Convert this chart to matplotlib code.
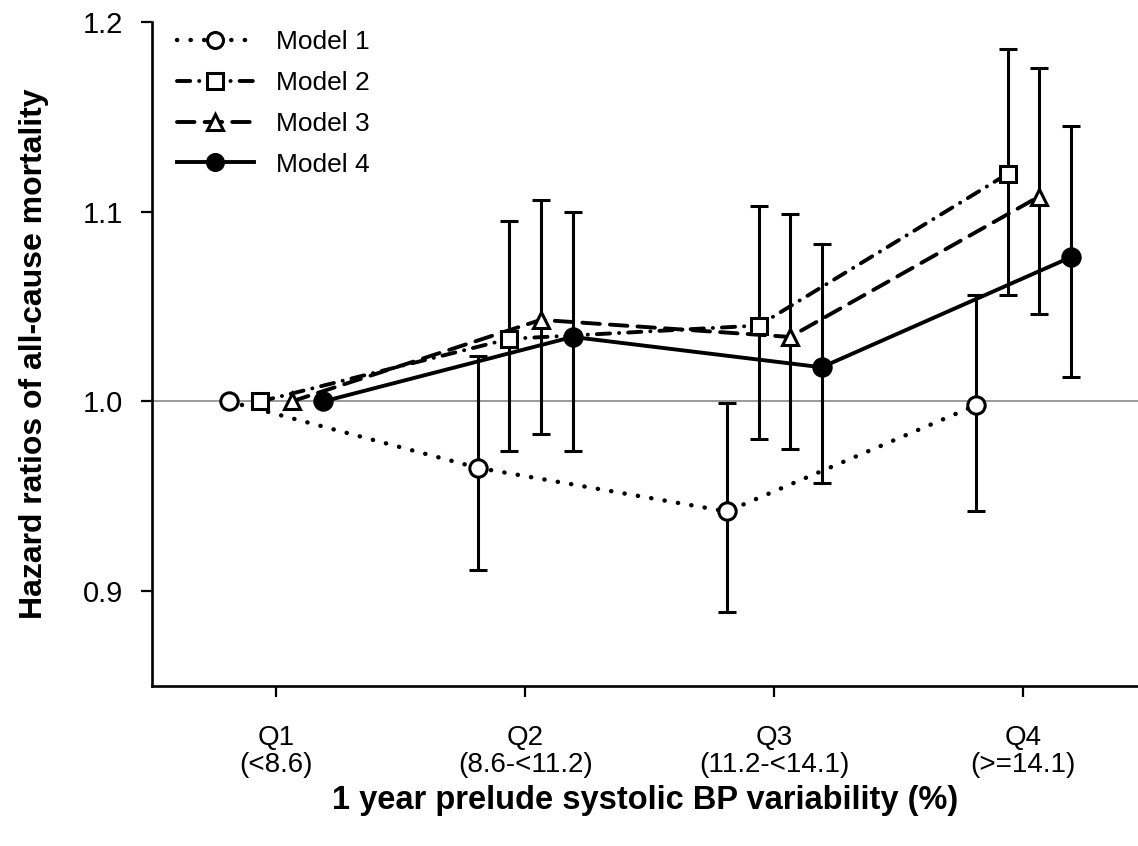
import matplotlib
matplotlib.use('Agg')
import numpy as np
import matplotlib.pyplot as plt

# -------------------------------------------------------
# DATA
# -------------------------------------------------------
quartiles = ['Q1\n(<8.6)', 'Q2\n(8.6-<11.2)', 'Q3\n(11.2-<14.1)', 'Q4\n(>=14.1)']
model_names = ['Model 1', 'Model 2', 'Model 3', 'Model 4']

hr_m1 = [1.000, 0.965, 0.942, 0.998]
lo_m1 = [1.000, 0.911, 0.889, 0.942]
hi_m1 = [1.000, 1.024, 0.999, 1.056]

hr_m2 = [1.000, 1.033, 1.040, 1.120]
lo_m2 = [1.000, 0.974, 0.980, 1.056]
hi_m2 = [1.000, 1.095, 1.103, 1.186]

hr_m3 = [1.000, 1.043, 1.034, 1.108]
lo_m3 = [1.000, 0.983, 0.975, 1.046]
hi_m3 = [1.000, 1.106, 1.099, 1.176]

hr_m4 = [1.000, 1.034, 1.018, 1.076]
lo_m4 = [1.000, 0.974, 0.957, 1.013]
hi_m4 = [1.000, 1.100, 1.083, 1.145]

# -------------------------------------------------------
# STYLE
# -------------------------------------------------------
plt.rcParams['font.family'] = ['Liberation Sans', 'DejaVu Sans']

offsets = [-0.19, -0.063, 0.063, 0.19]
line_styles = [(0, (0.05, 3.0)), (0, (3.4, 2.3, 0.05, 2.3)), (0, (4.5, 2.6)), '-']
line_widths = [3.2, 2.8, 2.8, 2.8]
markers = ['o', 's', '^', 'o']
faces = ['white', 'white', 'white', 'black']
msizes = [12.5, 12, 12, 12.5]

series = [(hr_m1, lo_m1, hi_m1), (hr_m2, lo_m2, hi_m2),
          (hr_m3, lo_m3, hi_m3), (hr_m4, lo_m4, hi_m4)]

fig = plt.figure(figsize=(11.38, 8.46), dpi=100)
ax = fig.add_axes([152 / 1138, 160 / 846, 986 / 1138, 664 / 846])

x = np.arange(1, len(quartiles) + 1)

ax.axhline(1.0, color='#9a9a9a', lw=1.4, zorder=1)

handles = []
for i, (hr, lo, hi) in enumerate(series):
    xs = x + offsets[i]
    hr = np.array(hr)
    lo = np.array(lo)
    hi = np.array(hi)
    # error bars (no bar for the reference group Q1)
    ax.errorbar(xs[1:], hr[1:], yerr=[hr[1:] - lo[1:], hi[1:] - hr[1:]],
                fmt='none', ecolor='black', elinewidth=2.2, capsize=6.2,
                capthick=2.2, zorder=2)
    ax.plot(xs, hr, color='black', lw=line_widths[i], linestyle=line_styles[i],
            dash_capstyle='round', zorder=3 + i * 0.1)
    ax.plot(xs, hr, linestyle='none', marker=markers[i], ms=msizes[i],
            mfc=faces[i], mec='black', mew=2.2, zorder=4 + i * 0.1)
    h, = ax.plot([], [], color='black', lw=line_widths[i], linestyle=line_styles[i],
                 dash_capstyle='round', marker=markers[i], ms=msizes[i] - 1,
                 mfc=faces[i], mec='black', mew=2.2)
    handles.append(h)

ax.set_xlim(0.502, 4.46)
ax.set_ylim(0.85, 1.2)
ax.set_yticks([0.9, 1.0, 1.1, 1.2])
ax.set_yticklabels(['0.9', '1.0', '1.1', '1.2'], fontsize=21)
ax.set_xticks(x)
ax.set_xticklabels(quartiles, fontsize=20, linespacing=1.05)

for s in ['top', 'right']:
    ax.spines[s].set_visible(False)
for s in ['left', 'bottom']:
    ax.spines[s].set_linewidth(1.9)
ax.tick_params(axis='both', direction='out', length=8, width=1.6)
ax.tick_params(axis='x', pad=20)
ax.tick_params(axis='y', pad=13)

ax.set_ylabel('Hazard ratios of all-cause mortality', fontsize=23,
              fontweight='bold', labelpad=24)
ax.set_xlabel('1 year prelude systolic BP variability (%)', fontsize=23.5,
              fontweight='bold', labelpad=5)

ax.legend(handles, model_names, loc='upper left',
          bbox_to_anchor=(25 / 986, 1 - 8 / 664),
          frameon=False, fontsize=19, handlelength=2.9, handletextpad=0.85,
          labelspacing=0.64, borderaxespad=0, borderpad=0)

fig.savefig('out.png', dpi=100)
